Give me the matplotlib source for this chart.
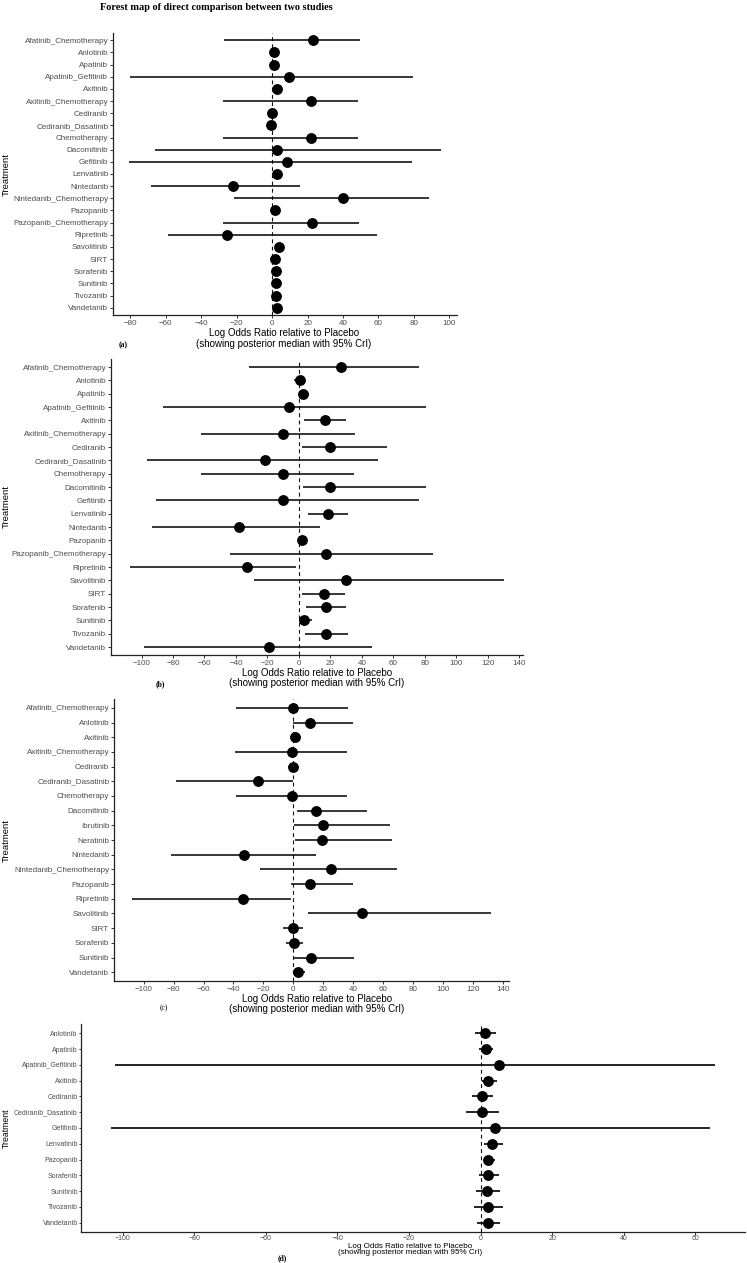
import numpy as np
import matplotlib.pyplot as plt

W, H = 747, 1263
plt.rcParams['font.family'] = ['Liberation Sans', 'DejaVu Sans']

# panel (a)
names_a = ['Afatinib_Chemotherapy', 'Anlotinib', 'Apatinib', 'Apatinib_Gefitinib', 'Axitinib',
           'Axitinib_Chemotherapy', 'Cediranib', 'Cediranib_Dasatinib', 'Chemotherapy', 'Dacomitinib',
           'Gefitinib', 'Lenvatinib', 'Nintedanib', 'Nintedanib_Chemotherapy', 'Pazopanib',
           'Pazopanib_Chemotherapy', 'Ripretinib', 'Savolitinib', 'SIRT', 'Sorafenib', 'Sunitinib',
           'Tivozanib', 'Vandetanib']
med_a = [22.9, 1.1, 1.1, 9.5, 2.7, 22.0, 0.0, -0.4, 22.0, 2.7, 8.3, 3.0, -22.0, 40.2, 1.7,
         22.5, -25.6, 4.0, 1.7, 2.1, 2.1, 1.9, 2.7]
low_a = [-27.1, -0.5, -0.5, -80.1, 1.0, -28.0, -1.5, -2.0, -28.0, -66.3, -81.0, 1.5, -68.2, -21.6, 0.2,
         -27.7, -58.7, 2.5, -1.1, 0.5, 0.5, 0.3, 1.0]
high_a = [49.4, 2.6, 2.6, 79.7, 4.2, 48.7, 1.5, 1.2, 48.7, 95.5, 79.0, 4.5, 15.9, 88.6, 3.2,
          49.0, 59.3, 5.5, 3.2, 3.6, 3.6, 3.4, 4.2]
ticks_a = [-80, -60, -40, -20, 0, 20, 40, 60, 80, 100]

# panel (b)
names_b = ['Afatinib_Chemotherapy', 'Anlotinib', 'Apatinib', 'Apatinib_Gefitinib', 'Axitinib',
           'Axitinib_Chemotherapy', 'Cediranib', 'Cediranib_Dasatinib', 'Chemotherapy', 'Dacomitinib',
           'Gefitinib', 'Lenvatinib', 'Nintedanib', 'Pazopanib', 'Pazopanib_Chemotherapy', 'Ripretinib',
           'Savolitinib', 'SIRT', 'Sorafenib', 'Sunitinib', 'Tivozanib', 'Vandetanib']
med_b = [27.0, 0.9, 2.6, -6.0, 16.5, -10.3, 20.0, -21.4, -10.3, 19.7, -10.3, 18.8, -38.0, 1.7,
         17.0, -32.7, 29.9, 15.7, 17.4, 3.0, 17.4, -18.8]
low_b = [-31.6, -2.8, 0.4, -86.3, 3.4, -62.2, 1.9, -96.8, -62.2, 2.4, -91.0, 5.8, -93.2, 0.2,
         -44.0, -107.5, -28.6, 2.3, 4.3, 0.0, 3.8, -98.3]
high_b = [76.3, 2.6, 6.4, 80.6, 29.9, 35.7, 56.0, 50.4, 35.3, 80.8, 76.3, 31.4, 13.7, 3.2,
          85.5, -2.1, 130.6, 29.4, 30.0, 8.3, 31.0, 46.2]
ticks_b = list(range(-100, 141, 20))

# panel (c)
names_c = ['Afatinib_Chemotherapy', 'Anlotinib', 'Axitinib', 'Axitinib_Chemotherapy', 'Cediranib',
           'Cediranib_Dasatinib', 'Chemotherapy', 'Dacomitinib', 'Ibrutinib', 'Neratinib', 'Nintedanib',
           'Nintedanib_Chemotherapy', 'Pazopanib', 'Ripretinib', 'Savolitinib', 'SIRT', 'Sorafenib',
           'Sunitinib', 'Vandetanib']
med_c = [0.0, 11.2, 1.3, -1.1, -0.2, -23.7, -1.1, 14.8, 19.7, 18.8, -32.9, 24.8, 11.4, -33.6,
         45.9, 0.0, 0.4, 12.0, 3.4]
low_c = [-38.0, 0.0, -2.2, -38.9, -3.6, -78.5, -38.5, 2.7, 0.4, 0.9, -81.9, -22.6, -1.8, -107.8,
         10.0, -6.7, -4.7, -0.4, 0.0]
high_c = [36.7, 39.6, 4.5, 35.8, 3.8, 0.0, 35.8, 49.0, 64.7, 65.8, 15.0, 69.4, 40.0, -1.8,
          132.0, 6.7, 6.3, 40.3, 7.6]
ticks_c = list(range(-100, 141, 20))

# panel (d)
names_d = ['Anlotinib', 'Apatinib', 'Apatinib_Gefitinib', 'Axitinib', 'Cediranib', 'Cediranib_Dasatinib',
           'Gefitinib', 'Lenvatinib', 'Pazopanib', 'Sorafenib', 'Sunitinib', 'Tivozanib', 'Vandetanib']
med_d = [1.2, 1.5, 5.2, 2.0, 0.5, 0.5, 3.9, 3.3, 2.0, 2.0, 1.8, 2.0, 2.0]
low_d = [-1.6, -0.5, -102.0, 0.3, -2.5, -4.1, -103.2, 1.0, 1.2, -0.6, -1.2, -1.9, -1.0]
high_d = [4.2, 3.5, 65.4, 4.7, 3.5, 5.0, 64.0, 6.1, 4.1, 5.1, 5.5, 6.3, 5.4]
ticks_d = list(range(-100, 61, 20))

fig = plt.figure(figsize=(W / 100, H / 100), dpi=100)


def forest(box, names, med, low, high, ticks, fs, lw, tlen=2.2, tpad=1.2):
    left, top, right, bottom = box
    ax = fig.add_axes([left / W, 1 - bottom / H, (right - left) / W, (bottom - top) / H])
    y = np.arange(len(names))
    ax.axvline(0, color='#111111', lw=0.8, ls=(0, (3.5, 3)), zorder=1)
    ax.hlines(y, low, high, color='black', lw=lw, zorder=2)
    ax.plot(med, y, 'o', color='black', ms=6.8, zorder=3)
    # ggplot-like 5% expansion
    lo, hi = min(low), max(high)
    pad = 0.05 * (hi - lo)
    ax.set_xlim(lo - pad, hi + pad)
    ax.set_ylim(len(names) - 0.4, -0.6)
    ax.set_yticks(y, names)
    ax.set_xticks(ticks)
    for s in ['top', 'right']:
        ax.spines[s].set_visible(False)
    for s in ['left', 'bottom']:
        ax.spines[s].set_linewidth(0.9)
        ax.spines[s].set_color('#222222')
    ax.tick_params(length=tlen, width=0.7, color='#333333', labelcolor='#4D4D4D',
                   labelsize=fs, pad=tpad)
    ax.set_facecolor('none')
    return ax


ax_a = forest((113, 33, 457, 315), names_a, med_a, low_a, high_a, ticks_a, 5.8, 1.1)
ax_b = forest((111, 359, 523, 655), names_b, med_b, low_b, high_b, ticks_b, 5.8, 1.1)
ax_c = forest((114, 699, 509, 981), names_c, med_c, low_c, high_c, ticks_c, 5.8, 1.1)
ax_d = forest((81, 1024, 745, 1232), names_d, med_d, low_d, high_d, ticks_d, 5.0, 1.2,
              tlen=1.8, tpad=0.6)

xlab = 'Log Odds Ratio relative to Placebo\n(showing posterior median with 95% CrI)'
for ax, (cx, cy), fs, ls in [(ax_a, (284, 338.5), 7.0, 1.05), (ax_b, (317, 678), 7.0, 1.05),
                             (ax_c, (317, 1004), 7.0, 1.05), (ax_d, (410, 1249.5), 5.8, 0.95)]:
    fig.text(cx / W, 1 - cy / H, xlab, ha='center', va='center', fontsize=fs,
             linespacing=ls, color='black')
    pos = ax.get_position()
    ymid = (pos.y0 + pos.y1) / 2
    fig.text(6 / W, ymid, 'Treatment', rotation=90, ha='center', va='center',
             fontsize=6.8 if ax is not ax_d else 6.3, color='black')

for lab, (x, y), wt in [('(a)', (123, 345), 'bold'), ('(b)', (160, 684), 'bold'),
                        ('(c)', (164, 1008), 'normal'), ('(d)', (282, 1258), 'bold')]:
    fig.text(x / W, 1 - y / H, lab, ha='center', va='center', fontsize=5.5,
             family='Liberation Serif', weight=wt)

fig.text(216 / W, 1 - 7 / H, 'Forest map of direct comparison between two studies',
         ha='center', va='center', fontsize=7.4, family='Liberation Serif', weight='bold')

fig.savefig('out.png', dpi=100)
